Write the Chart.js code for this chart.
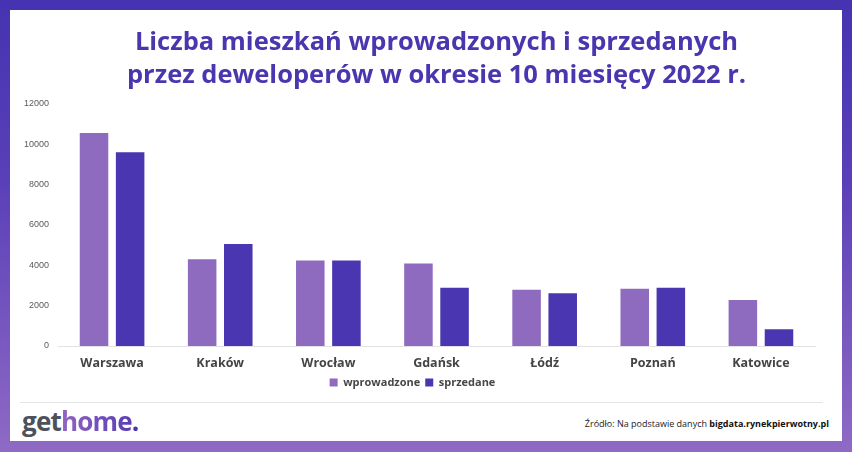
<!DOCTYPE html>
<html>
<head>
<meta charset="utf-8">
<script src="https://cdn.jsdelivr.net/npm/chart.js@4.4.0/dist/chart.umd.min.js"></script>
<style>
   html, body {
      margin: 0;
      padding: 0;
   }
   body {
      width: 852px;
      height: 452px;
      position: relative;
      overflow: hidden;
      background: linear-gradient(to bottom, #4533b1 0%, #5a40b8 40%, #8f6ac5 100%);
      font-family: 'Open Sans', sans-serif;
   }
   #panel {
      position: absolute;
      left: 10px;
      top: 10px;
      width: 832px;
      height: 431px;
      background: #ffffff;
   }
   #chart-box {
      position: absolute;
      left: 0;
      top: 0;
      width: 832px;
      height: 390px;
   }
   #footer-line {
      position: absolute;
      left: 10px;
      top: 392px;
      width: 803px;
      height: 1px;
      background: #e4e4e8;
   }
   #logo {
      position: absolute;
      left: 12px;
      top: 394px;
      font-size: 26px;
      font-weight: 700;
      letter-spacing: -0.8px;
      line-height: 34px;
   }
   #logo .get { color: #4b525c; }
   #logo .home {
      background: linear-gradient(to right, #9064c2, #5a3db6);
      -webkit-background-clip: text;
      background-clip: text;
      color: transparent;
   }
   #logo .dot { color: #4a35ad; }
   #source {
      position: absolute;
      right: 23px;
      top: 417px;
      font-size: 9px;
      color: #222222;
      line-height: 14px;
   }
   #source b { color: #111111; }
</style>
</head>
<body>
<div id="panel">
   <div id="chart-box"><canvas id="gethomeChart"></canvas></div>
   <div id="footer-line"></div>
   <div id="logo"><span class="get">get</span><span class="home">home</span><span class="dot">.</span></div>
</div>
<div id="source">Źródło: Na podstawie danych <b>bigdata.rynekpierwotny.pl</b></div>

<script>
// #region Data
const cities = ['Warszawa', 'Kraków', 'Wrocław', 'Gdańsk', 'Łódź', 'Poznań', 'Katowice'];
const wprowadzone = [10550, 4300, 4230, 4080, 2780, 2840, 2280];
const sprzedane = [9600, 5050, 4230, 2890, 2610, 2880, 830];
const titleLines = ['Liczba mieszkań wprowadzonych i sprzedanych', 'przez deweloperów w okresie 10 miesięcy 2022 r.'];
const yMax = 12000;
const yStep = 2000;
// #endregion

const titleColor = '#4a36ae';

const config = {
   type: 'bar',
   data: {
      labels: cities,
      datasets: [
         {
            label: 'wprowadzone',
            data: wprowadzone,
            backgroundColor: '#8e6bbf',
            categoryPercentage: 0.668,
            barPercentage: 0.79
         },
         {
            label: 'sprzedane',
            data: sprzedane,
            backgroundColor: '#4936b0',
            categoryPercentage: 0.668,
            barPercentage: 0.79
         }
      ]
   },
   options: {
      responsive: true,
      maintainAspectRatio: false,
      animation: false,
      layout: {
         padding: { left: 0, right: 27, top: 0, bottom: 2 }
      },
      plugins: {
         tooltip: { enabled: false },
         title: {
            display: true,
            fullSize: false,
            text: titleLines,
            color: titleColor,
            font: { family: "'Open Sans'", size: 25.5, weight: 'bold', lineHeight: 1.3 },
            padding: { top: 16.4, bottom: 11 }
         },
         legend: {
            display: true,
            position: 'bottom',
            labels: {
               boxWidth: 8,
               boxHeight: 8,
               padding: 5,
               color: '#474747',
               font: { family: "'Open Sans'", size: 11, weight: 'bold' }
            }
         }
      },
      scales: {
         x: {
            grid: { display: false, drawTicks: false },
            border: { display: true, color: '#e2e2e6', width: 1 },
            afterFit: function (scale) {
               scale.height = 26;
            },
            ticks: {
               color: '#444444',
               padding: 10,
               font: { family: "'Open Sans'", size: 12.5, weight: 'bold' }
            }
         },
         y: {
            min: 0,
            max: yMax,
            grid: { display: false, drawTicks: false },
            border: { display: false },
            afterFit: function (scale) {
               scale.width = 48;
            },
            ticks: {
               stepSize: yStep,
               padding: 9,
               color: '#5a5a5a',
               font: { family: "'Liberation Sans'", size: 9 },
               callback: function (value) {
                  return String(value);
               }
            }
         }
      }
   }
};

const myChart = new Chart(document.getElementById('gethomeChart'), config);
</script>
</body>
</html>
